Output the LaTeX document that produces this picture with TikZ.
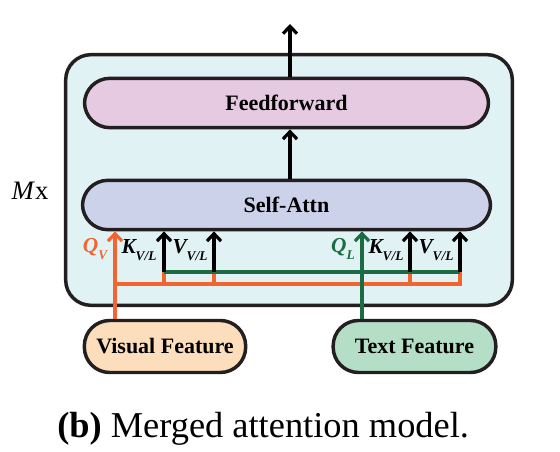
\documentclass[tikz,border=0pt]{standalone}
\usepackage{fontspec}
\setmainfont{Liberation Serif}
\usetikzlibrary{arrows.meta}
\definecolor{outerfill}{HTML}{E1F2F4}
\definecolor{fffill}{HTML}{E6CAE1}
\definecolor{safill}{HTML}{CDD2EB}
\definecolor{vffill}{HTML}{FCDDBC}
\definecolor{tffill}{HTML}{B4DEC5}
\definecolor{orangec}{HTML}{F26531}
\definecolor{greenc}{HTML}{1B6B45}
\definecolor{edgec}{HTML}{231F20}
\newcommand\mysub[1]{\raisebox{-5.5pt}{\fontsize{10}{10}\selectfont #1}}
\begin{document}
\begin{tikzpicture}[x=0.75pt,y=-0.75pt,
  pill/.style={draw=edgec, line width=2.6pt, rounded corners=19pt, inner sep=0pt,
    font=\fontsize{16.5}{16.5}\selectfont\bfseries},
  arr/.style={line width=2.4pt, -{Straight Barb[length=5.5pt,width=10.5pt,line width=2.4pt]}},
  obus/.style={draw=orangec, line width=2.4pt},
  gbus/.style={draw=greenc, line width=2.4pt},
  lab/.style={inner sep=0pt, font=\fontsize{16}{16}\selectfont\bfseries\itshape}]
\useasboundingbox (0,0) rectangle (560,452);
% outer module
\node[draw=edgec, line width=2.6pt, fill=outerfill, rounded corners=19pt,
  minimum width=335pt, minimum height=188pt, inner sep=0pt] (outer) at (289,180) {};
\node[inner sep=0pt, font=\fontsize{20}{20}\selectfont] (mx) at (30,191) {\textit{M}x};
% main blocks
\node[pill, fill=fffill, minimum width=303pt, minimum height=37pt] (ff) at (286.5,103) {Feedforward};
\node[pill, fill=safill, minimum width=306pt, minimum height=37pt] (sa) at (286.5,205) {Self-Attn};
\node[pill, fill=vffill, minimum width=121pt, minimum height=39pt] (vf) at (165,346.5) {Visual Feature};
\node[pill, fill=tffill, minimum width=122pt, minimum height=39pt] (tf) at (414.5,346.5) {Text Feature};
% vertical flow
\coordinate (out) at (290,24);
\draw[arr] (ff.north -| out) -- (out);
\draw[arr] (sa.north -| out) -- (ff.south -| out);
% bus coordinates
\coordinate (ob) at (115,284);
\coordinate (o1) at (164,284);
\coordinate (o2) at (214,284);
\coordinate (o3) at (410,284);
\coordinate (o4) at (460,284);
\coordinate (g1) at (164,272);
\coordinate (g2) at (214,272);
\coordinate (g3) at (410,272);
\coordinate (g4) at (460,272);
\coordinate (ql) at (362,284);
% orange bus
\draw[obus] (ob) -- (o4) -- (g4);
\draw[obus] (o1) -- (g1);
\draw[obus] (o2) -- (g2);
\draw[obus] (o3) -- (g3);
% green bus
\draw[gbus] (g1) -- (g4);
% K/V arrows
\draw[arr] (g1) -- (sa.south -| g1);
\draw[arr] (g2) -- (sa.south -| g2);
\draw[arr] (g3) -- (sa.south -| g3);
\draw[arr] (g4) -- (sa.south -| g4);
% query arrows
\draw[arr, draw=greenc] (tf.north -| ql) -- (sa.south -| ql);
\draw[arr, draw=orangec] (vf.north -| ob) -- (sa.south -| ob);
% labels
\node[lab, text=orangec] (lqv) at (95,249) {Q\mysub{V}};
\node[lab] (lk1) at (139,250) {K\mysub{V/L}};
\node[lab] (lv1) at (190,250) {V\mysub{V/L}};
\node[lab, text=greenc] (lql) at (343,249) {Q\mysub{L}};
\node[lab] (lk2) at (386,250) {K\mysub{V/L}};
\node[lab] (lv2) at (436,250) {V\mysub{V/L}};
% caption
\node[anchor=base west, inner sep=0pt, font=\fontsize{27.3}{27.3}\selectfont] (cap) at (57,437)
  {\textbf{(b)} Merged attention model.};
\end{tikzpicture}
\end{document}
